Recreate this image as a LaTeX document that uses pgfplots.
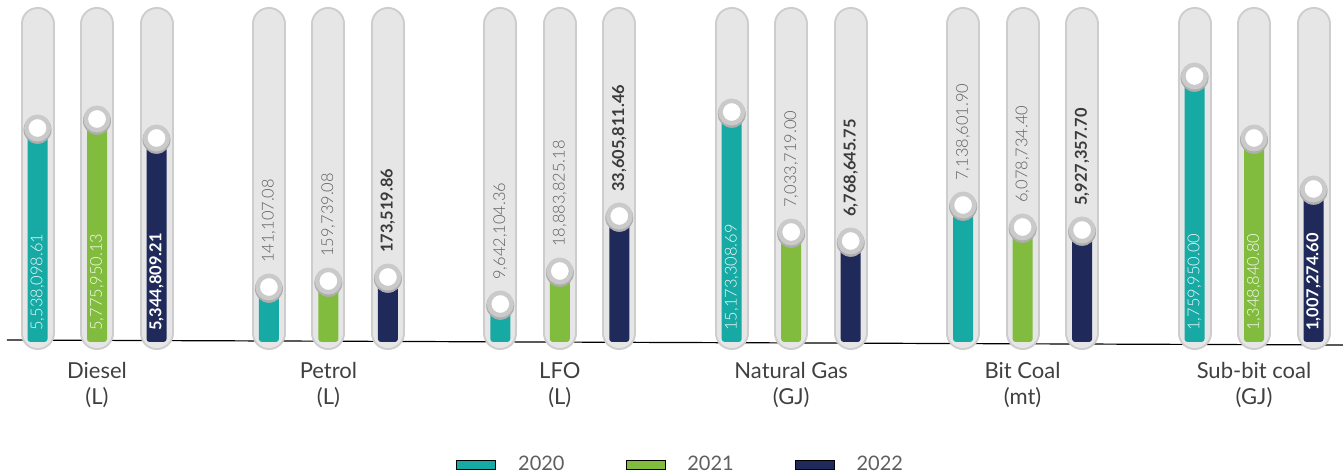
\documentclass[border=0pt]{standalone}
\usepackage{fontspec}
\setmainfont{Lato}
\newfontfamily\latolight{Lato Light}
\usepackage{pgfplots}
\usepackage{pgfplotstable}
\pgfplotsset{compat=1.18}
\definecolor{c2020}{HTML}{17A9A4}
\definecolor{c2021}{HTML}{82BC3F}
\definecolor{c2022}{HTML}{1F2A5B}
\definecolor{tubefill}{HTML}{E6E6E6}
\definecolor{tubeedge}{HTML}{CDCDCD}
\definecolor{ring}{HTML}{CACACA}
\definecolor{ringshadow}{HTML}{AEAEAE}
\definecolor{labgrey}{HTML}{5F5F5F}
\definecolor{labdark}{HTML}{3A3A3A}
\definecolor{catgrey}{HTML}{404040}
\definecolor{baseline}{HTML}{707070}

% x = category index, h = drawn height of the filled bar, lab = value, in = label inside bar
\pgfplotstableread{
x h lab in
0 214 5,538,098.61 1
1 55 141,107.08 0
2 38 9,642,104.36 0
3 230 15,173,308.69 1
4 137 7,138,601.90 0
5 266 1,759,950.00 1
}\tA
\pgfplotstableread{
x h lab in
0 223 5,775,950.13 1
1 61 159,739.08 0
2 71 18,883,825.18 0
3 110 7,033,719.00 0
4 115 6,078,734.40 0
5 204 1,348,840.80 1
}\tB
\pgfplotstableread{
x h lab in
0 204 5,344,809.21 1
1 65 173,519.86 0
2 126 33,605,811.46 0
3 101 6,768,645.75 0
4 112 5,927,357.70 0
5 153 1,007,274.60 1
}\tC

\begin{document}
\begin{tikzpicture}
\begin{axis}[
  scale only axis, width=671.5pt, height=238pt,
  xmin=-0.41919, xmax=5.38462, ymin=-134, ymax=342,
  axis line style={draw=none}, tick style={draw=none}, major tick length=0pt,
  ytick=\empty,
  xtick={0,...,5},
  xticklabels={{Diesel\\(L)},{Petrol\\(L)},{LFO\\(L)},{Natural Gas\\(GJ)},{Bit Coal\\(mt)},{Sub-bit coal\\(GJ)}},
  xticklabel style={align=center, anchor=north, inner sep=0pt, yshift=57pt,
    font=\fontsize{11}{13}\selectfont, text=catgrey},
  clip=false,
  unbounded coords=jump,
  legend columns=3,
  legend image code/.code={\fill[#1] (0pt,-2.25pt) rectangle (19.5pt,2.25pt);},
  legend style={at={(axis cs:1.5514,-122.5)}, anchor=west, draw=none, fill=none,
    inner sep=0pt, font=\fontsize{10}{12}\selectfont, text=labgrey,
    nodes={inner sep=0pt},
    /tikz/every odd column/.append style={column sep=11pt},
    /tikz/every even column/.append style={column sep=30.5pt}},
]
% baseline
\draw[baseline, line width=0.6pt] (axis cs:-0.389,2) -- (axis cs:5.3846,-3);
% tubes
\addplot[forget plot, tubeedge, line width=17pt, line cap=round, mark=none] coordinates {
(-0.25713,9)(-0.25713,318)(-0.25713,nan)(0,9)(0,318)(0,nan)(0.25713,9)(0.25713,318)(0.25713,nan)
(0.74287,9)(0.74287,318)(0.74287,nan)(1,9)(1,318)(1,nan)(1.25713,9)(1.25713,318)(1.25713,nan)
(1.74287,9)(1.74287,318)(1.74287,nan)(2,9)(2,318)(2,nan)(2.25713,9)(2.25713,318)(2.25713,nan)
(2.74287,9)(2.74287,318)(2.74287,nan)(3,9)(3,318)(3,nan)(3.25713,9)(3.25713,318)(3.25713,nan)
(3.74287,9)(3.74287,318)(3.74287,nan)(4,9)(4,318)(4,nan)(4.25713,9)(4.25713,318)(4.25713,nan)
(4.74287,9)(4.74287,318)(4.74287,nan)(5,9)(5,318)(5,nan)(5.25713,9)(5.25713,318)
};
\addplot[forget plot, tubefill, line width=15pt, line cap=round, mark=none] coordinates {
(-0.25713,9)(-0.25713,318)(-0.25713,nan)(0,9)(0,318)(0,nan)(0.25713,9)(0.25713,318)(0.25713,nan)
(0.74287,9)(0.74287,318)(0.74287,nan)(1,9)(1,318)(1,nan)(1.25713,9)(1.25713,318)(1.25713,nan)
(1.74287,9)(1.74287,318)(1.74287,nan)(2,9)(2,318)(2,nan)(2.25713,9)(2.25713,318)(2.25713,nan)
(2.74287,9)(2.74287,318)(2.74287,nan)(3,9)(3,318)(3,nan)(3.25713,9)(3.25713,318)(3.25713,nan)
(3.74287,9)(3.74287,318)(3.74287,nan)(4,9)(4,318)(4,nan)(4.25713,9)(4.25713,318)(4.25713,nan)
(4.74287,9)(4.74287,318)(4.74287,nan)(5,9)(5,318)(5,nan)(5.25713,9)(5.25713,318)
};
% filled bars
\addplot[forget plot, ybar, bar width=0.08643, bar shift=0pt, fill=c2020, draw=none, rounded corners=1.5pt]
  table[x expr=\thisrow{x}-0.25713, y=h]{\tA};
\addplot[forget plot, ybar, bar width=0.08643, bar shift=0pt, fill=c2021, draw=none, rounded corners=1.5pt]
  table[x expr=\thisrow{x}, y=h]{\tB};
\addplot[forget plot, ybar, bar width=0.08643, bar shift=0pt, fill=c2022, draw=none, rounded corners=1.5pt]
  table[x expr=\thisrow{x}+0.25713, y=h]{\tC};
% knobs
\addplot[forget plot, only marks, mark=*, mark size=6.8pt, ringshadow, mark options={yshift=-0.9pt}]
  table[x expr=\thisrow{x}-0.25713, y=h]{\tA};
\addplot[forget plot, only marks, mark=*, mark size=6.8pt, ringshadow, mark options={yshift=-0.9pt}]
  table[x expr=\thisrow{x}, y=h]{\tB};
\addplot[forget plot, only marks, mark=*, mark size=6.8pt, ringshadow, mark options={yshift=-0.9pt}]
  table[x expr=\thisrow{x}+0.25713, y=h]{\tC};
\addplot[forget plot, only marks, mark=*, mark size=5.6pt, mark options={draw=ring, line width=2.25pt, fill=white}]
  table[x expr=\thisrow{x}-0.25713, y=h]{\tA};
\addplot[forget plot, only marks, mark=*, mark size=5.6pt, mark options={draw=ring, line width=2.25pt, fill=white}]
  table[x expr=\thisrow{x}, y=h]{\tB};
\addplot[forget plot, only marks, mark=*, mark size=5.6pt, mark options={draw=ring, line width=2.25pt, fill=white}]
  table[x expr=\thisrow{x}+0.25713, y=h]{\tC};
% value labels
\pgfplotsset{lblin/.style={forget plot, only marks, mark=none, restrict y to domain=-500:1000,
  nodes near coords, point meta=explicit symbolic,
  nodes near coords style={rotate=90, anchor=west, inner sep=0pt, font=\fontsize{8.2}{9}\selectfont\latolight}}}
\addplot[lblin, nodes near coords style={text=white!93!c2020}]
  table[x expr=\thisrow{x}-0.25713, y expr={\thisrow{in}==1 ? 11 : -2000}, meta=lab]{\tA};
\addplot[lblin, nodes near coords style={text=white!93!c2021}]
  table[x expr=\thisrow{x}, y expr={\thisrow{in}==1 ? 11 : -2000}, meta=lab]{\tB};
\addplot[lblin, nodes near coords style={text=white, font=\fontsize{8.2}{9}\selectfont\bfseries}]
  table[x expr=\thisrow{x}+0.25713, y expr={\thisrow{in}==1 ? 11 : -2000}, meta=lab]{\tC};
\addplot[lblin, nodes near coords style={text=labgrey}]
  table[x expr=\thisrow{x}-0.25713, y expr={\thisrow{in}==0 ? \thisrow{h}+24 : -2000}, meta=lab]{\tA};
\addplot[lblin, nodes near coords style={text=labgrey}]
  table[x expr=\thisrow{x}, y expr={\thisrow{in}==0 ? \thisrow{h}+24 : -2000}, meta=lab]{\tB};
\addplot[lblin, nodes near coords style={text=labdark, font=\fontsize{8.2}{9}\selectfont\bfseries}]
  table[x expr=\thisrow{x}+0.25713, y expr={\thisrow{in}==0 ? \thisrow{h}+24 : -2000}, meta=lab]{\tC};
% legend
\addlegendimage{fill=c2020}\addlegendentry{2020}
\addlegendimage{fill=c2021}\addlegendentry{2021}
\addlegendimage{fill=c2022}\addlegendentry{2022}
\end{axis}
\pgfresetboundingbox
\useasboundingbox (current axis.south west) rectangle (current axis.north east);
\end{tikzpicture}
\end{document}
